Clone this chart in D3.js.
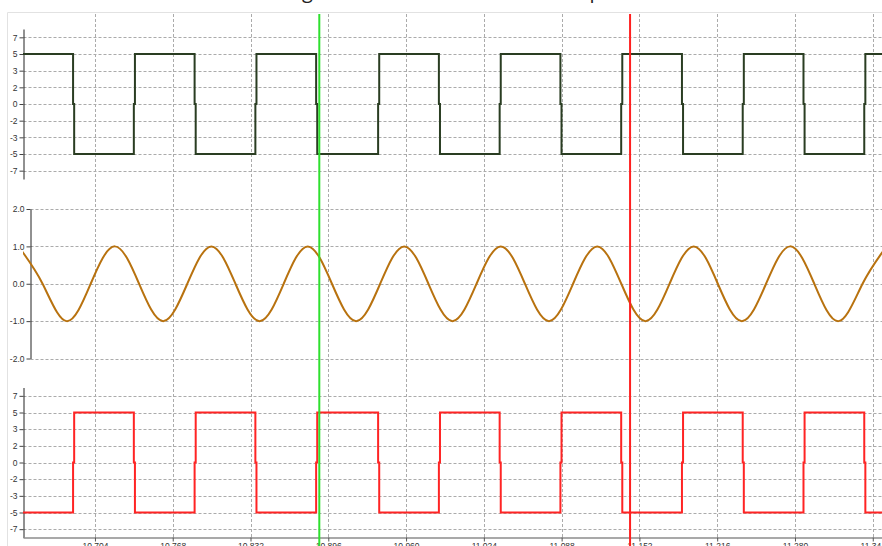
<!DOCTYPE html>
<meta charset="utf-8">
<script src="https://d3js.org/d3.v7.min.js"></script>
<style>
  body { margin: 0; background: #fff; overflow: hidden; }
</style>
<div id="chart"></div>
<script>

// bottom time axis ticks
var timeTicks = [10.704, 10.768, 10.832, 10.896, 10.960, 11.024, 11.088, 11.152, 11.216, 11.280, 11.344];

// y ticks of the two square channels (labels are rounded on the axis)
var squareTicks = [6.667, 5, 3.333, 1.667, 0, -1.667, -3.333, -5, -6.667];
var squareLabels = ["7", "5", "3", "2", "0", "-2", "-3", "-5", "-7"];

// y ticks of the analog channel
var sineTicks = [2, 1, 0, -1, -2];
var sineLabels = ["2.0", "1.0", "0.0", "-1.0", "-2.0"];

// channel 1 (dark square wave): [time, value]
var ch1 = [
  [10.6448, 5],
  [10.686, 0], [10.6869, -5],
  [10.736, 0], [10.7369, 5],
  [10.786, 0], [10.7869, -5],
  [10.836, 0], [10.8369, 5],
  [10.886, 0], [10.8869, -5],
  [10.937, 0], [10.9379, 5],
  [10.987, 0], [10.9879, -5],
  [11.037, 0], [11.0379, 5],
  [11.087, 0], [11.0879, -5],
  [11.137, 0], [11.1379, 5],
  [11.187, 0], [11.1879, -5],
  [11.237, 0], [11.2379, 5],
  [11.287, 0], [11.2879, -5],
  [11.337, 0], [11.3379, 5],
  [11.3516, 5]
];

// channel 3 (red square wave): [time, value]
var ch3 = [
  [10.6448, -5],
  [10.686, 0], [10.6869, 5],
  [10.736, 0], [10.7369, -5],
  [10.786, 0], [10.7869, 5],
  [10.836, 0], [10.8369, -5],
  [10.886, 0], [10.8869, 5],
  [10.937, 0], [10.9379, -5],
  [10.987, 0], [10.9879, 5],
  [11.037, 0], [11.0379, -5],
  [11.087, 0], [11.0879, 5],
  [11.137, 0], [11.1379, -5],
  [11.187, 0], [11.1879, 5],
  [11.237, 0], [11.2379, -5],
  [11.287, 0], [11.2879, 5],
  [11.337, 0], [11.3379, -5],
  [11.3516, -5]
];

// channel 2 (analog): peaks, troughs and zero crossings
var sineTimes = [10.641, 10.6609, 10.6807, 10.7005, 10.7204, 10.7403, 10.7601, 10.7800,
  10.7998, 10.8196, 10.8395, 10.8593, 10.8791, 10.8990, 10.9189, 10.9387, 10.9585,
  10.9784, 10.9982, 11.0180, 11.0379, 11.0578, 11.0776, 11.0974, 11.1173, 11.1371,
  11.1570, 11.1768, 11.1967, 11.2165, 11.2363, 11.2562, 11.2760, 11.2959, 11.3158,
  11.3356, 11.3554];
var sineValues = [1, 0, -1, 0, 1, 0, -1, 0,
  1, 0, -1, 0, 1, 0, -1, 0, 1,
  0, -1, 0, 1, 0, -1, 0, 1, 0,
  -1, 0, 1, 0, -1, 0, 1, 0, -1,
  0, 1];

// the two time cursors
var cursorTimes = [10.8886, 11.1443];
var cursorColors = ["#2ee02e", "#ff2020"];

var width = 882, height = 546;

var svg = d3.select("#chart")
  .append("svg")
    .attr("width", width)
    .attr("height", height)
    .style("font-family", "'Liberation Sans', Arial, sans-serif");

// title, mostly above the visible area
svg.append("text")
  .attr("x", 460)
  .attr("y", -2)
  .attr("text-anchor", "middle")
  .style("font-family", "'Open Sans', sans-serif")
  .style("font-size", "20px")
  .style("fill", "#222")
  .text("Logic Channels and Sine Wave Capture");

// chart frame
svg.append("path")
  .attr("d", "M7.5,546V12.5H882")
  .attr("fill", "none")
  .attr("stroke", "#e2e2e2");

var x = d3.scaleLinear().domain([10.6448, 11.3516]).range([23, 882]);

var panels = [
  {y: d3.scaleLinear().domain([-7.5, 7.5]).range([179, 29]), axisX: 23.5, ticks: squareTicks, labels: squareLabels},
  {y: d3.scaleLinear().domain([-2, 2]).range([358.5, 209]), axisX: 30.5, ticks: sineTicks, labels: sineLabels},
  {y: d3.scaleLinear().domain([-7.5, 7.5]).range([537.5, 387.5]), axisX: 23.5, ticks: squareTicks, labels: squareLabels}
];

// vertical grid
svg.append("g")
  .selectAll("line")
  .data(timeTicks)
  .enter()
  .append("line")
    .attr("x1", function(d) { return Math.round(x(d)) + 0.5; })
    .attr("x2", function(d) { return Math.round(x(d)) + 0.5; })
    .attr("y1", 14)
    .attr("y2", 537)
    .attr("stroke", "#ababab")
    .attr("stroke-dasharray", "3,2");

// horizontal grid + y axes
panels.forEach(function(p) {
  svg.append("g")
    .selectAll("line")
    .data(p.ticks)
    .enter()
    .append("line")
      .attr("x1", p.axisX)
      .attr("x2", width)
      .attr("y1", function(d) { return Math.round(p.y(d)) + 0.5; })
      .attr("y2", function(d) { return Math.round(p.y(d)) + 0.5; })
      .attr("stroke", "#ababab")
      .attr("stroke-dasharray", "3,2");

  var ax = svg.append("g")
    .attr("transform", "translate(" + p.axisX + ",0)")
    .call(d3.axisLeft(p.y)
      .tickValues(p.ticks)
      .tickFormat(function(d, i) { return p.labels[i]; })
      .tickSize(4)
      .tickSizeOuter(0)
      .tickPadding(2));
  ax.select(".domain").attr("stroke", "#222");
  ax.selectAll(".tick line").attr("stroke", "#444");
  ax.selectAll("text").style("font-size", "8.5px").style("fill", "#333");
});

// bottom time axis
var xa = svg.append("g")
  .attr("transform", "translate(0,537.5)")
  .call(d3.axisBottom(x)
    .tickValues(timeTicks)
    .tickFormat(d3.format(".3f"))
    .tickSize(4)
    .tickSizeOuter(0)
    .tickPadding(1));
xa.select(".domain").attr("stroke", "#8c8c8c").attr("stroke-width", 1.5);
xa.selectAll(".tick line").attr("stroke", "#555");
xa.selectAll("text").style("font-size", "8.5px").style("fill", "#333");

// clip for the traces
svg.append("clipPath")
  .attr("id", "plotclip")
  .append("rect")
    .attr("x", 23)
    .attr("y", 0)
    .attr("width", width - 23)
    .attr("height", height);

var traces = svg.append("g").attr("clip-path", "url(#plotclip)");

traces.append("path")
  .datum(ch1)
  .attr("fill", "none")
  .attr("stroke", "#2a3d22")
  .attr("stroke-width", 2)
  .attr("d", d3.line()
    .curve(d3.curveStepAfter)
    .x(function(d) { return x(d[0]); })
    .y(function(d) { return panels[0].y(d[1]); }));

traces.append("path")
  .datum(d3.zip(sineTimes, sineValues))
  .attr("fill", "none")
  .attr("stroke", "#b8720f")
  .attr("stroke-width", 2)
  .attr("d", d3.line()
    .curve(d3.curveNatural)
    .x(function(d) { return x(d[0]); })
    .y(function(d) { return panels[1].y(d[1]); }));

traces.append("path")
  .datum(ch3)
  .attr("fill", "none")
  .attr("stroke", "#ff2424")
  .attr("stroke-width", 2)
  .attr("d", d3.line()
    .curve(d3.curveStepAfter)
    .x(function(d) { return x(d[0]); })
    .y(function(d) { return panels[2].y(d[1]); }));

// cursors
svg.append("g")
  .selectAll("line")
  .data(cursorTimes)
  .enter()
  .append("line")
    .attr("x1", function(d) { return x(d); })
    .attr("x2", function(d) { return x(d); })
    .attr("y1", 14)
    .attr("y2", height)
    .attr("stroke", function(d, i) { return cursorColors[i]; })
    .attr("stroke-width", 2);

</script>
